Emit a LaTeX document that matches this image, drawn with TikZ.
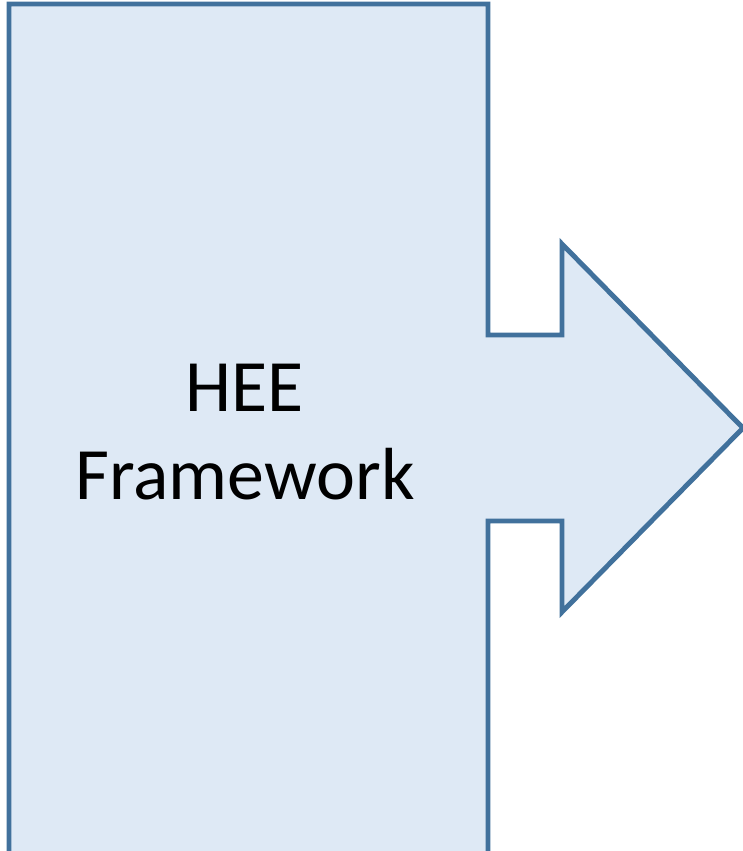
\documentclass[tikz,border=0pt]{standalone}
\usepackage{fontspec}
\setmainfont{Carlito}
\definecolor{heefill}{HTML}{DEE9F5}
\definecolor{heeline}{HTML}{41719C}

\begin{document}
\begin{tikzpicture}[x=0.01cm, y=-0.01cm]
			%%%%% START %%%%%
			
			\useasboundingbox (0, 0) rectangle (743, 851);
			\clip (0, 0) rectangle (743, 851);
			
			\draw[line width=1.4pt, color=heeline, fill=heefill, line join=miter] (9, 4) -- (488, 4) -- (488, 335) -- (562, 335) -- (562, 244) -- (743, 428) -- (562, 612) -- (562, 521) -- (488, 521) -- (488, 870) -- (9, 870) -- cycle;
			
			\node[align=center, font=\fontsize{21}{25}\selectfont] (hee) at (245, 432) {HEE\\Framework};
			
			%%%%% END %%%%%
		\end{tikzpicture}
\end{document}
